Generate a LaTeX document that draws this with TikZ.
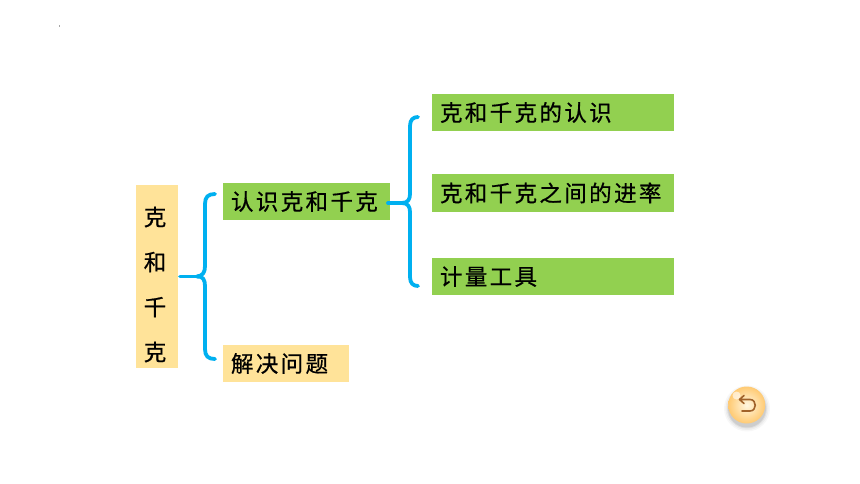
\documentclass[tikz,border=0pt]{standalone}
\usepackage{fontspec}
\usetikzlibrary{calc}
\newfontfamily\cjkfont[LetterSpace=10.5,FakeBold=0.6]{Noto Sans CJK SC}
\newcommand{\uptext}[1]{\raisebox{1pt}{#1}}
\newcommand{\rootchar}[1]{\mbox{#1\kern4pt}}
\definecolor{leafgreen}{HTML}{92D050}
\definecolor{paleyellow}{HTML}{FFE399}
\definecolor{linkblue}{HTML}{00B0F0}
\definecolor{arrowbrown}{HTML}{A0622A}
\tikzset{
  x=1pt,y=-1pt,
  label box/.style={anchor=north west,inner xsep=8pt,inner ysep=0pt,outer sep=0pt,
    minimum height=37pt,align=left,font=\cjkfont\fontsize{22.5}{24}\selectfont,text=black},
  green box/.style={label box,fill=leafgreen},
  yellow box/.style={label box,fill=paleyellow},
  link/.style={draw=linkblue,line width=3.8pt,line cap=round,line join=round},
}
\begin{document}
\begin{tikzpicture}
\useasboundingbox[fill=white] (0,0) rectangle (860,484);
\fill[gray!70] (59,25) rectangle (60,26.6);

\node[yellow box,anchor=north west,inner xsep=0pt,minimum width=42pt,minimum height=183pt,align=center,
  font=\cjkfont\fontsize{22.5}{45}\selectfont] (root) at (136,185)
  {\rule{0pt}{35pt}\rootchar{克}\\\rootchar{和}\\\rootchar{千}\\\rootchar{克}};
\node[green box,text width=151pt] (know) at (223,183) {\uptext{认识克和千克}};
\node[yellow box,text width=110pt] (solve) at (223,345) {\uptext{解决问题}};
\node[green box,text width=226pt] (leafa) at (432,94) {\uptext{克和千克的认识}};
\node[green box,text width=226pt,minimum height=38pt] (leafb) at (432,174) {\uptext{克和千克之间的进率}};
\node[green box,text width=226pt] (leafc) at (432,258) {\uptext{计量工具}};

% first brace
\coordinate (b1top) at ($(know.north west)+(-8,11)$);
\coordinate (b1bot) at ($(solve.north west)+(-8,14)$);
\coordinate (b1mid) at ($(root.east)+(19,0)$);
\coordinate (b1start) at ($(root.east)+(2,0)$);
\draw[link] (b1start) -- (b1mid);
\draw[link] (b1top) .. controls (208,194) and (205,197) .. (205,204) -- (205,266)
   .. controls (205,272) and (203,276) .. (b1mid);
\draw[link] (b1bot) .. controls (208,359) and (205,356) .. (205,349) -- (205,286)
   .. controls (205,280) and (203,276) .. (b1mid);

% second brace
\coordinate (b2top) at ($(leafa.north west)+(-14,23)$);
\coordinate (b2bot) at ($(leafc.north west)+(-14,28)$);
\coordinate (b2mid) at ($(know.east)+(12,1.5)$);
\coordinate (b2start) at ($(know.east)+(-2,1.5)$);
\draw[link] (b2start) -- (b2mid);
\draw[link] (b2top) .. controls (413,117) and (410,120) .. (410,126) -- (410,194)
   .. controls (410,199) and (408,203) .. (b2mid);
\draw[link] (b2bot) .. controls (413,286) and (410,283) .. (410,277) -- (410,212)
   .. controls (410,207) and (408,203) .. (b2mid);

% return button
\foreach \r/\o in {23/0.03,21.5/0.04,20/0.06,19/0.08}
  \fill[black,opacity=\o] (747,408.5) circle (\r);
\shade[inner color=white!70!paleyellow,middle color=paleyellow,outer color=paleyellow!75!orange]
  (746.7,405) circle (18.5);
\fill[white,opacity=0.6] (736.5,395.5) circle (4);
\draw[arrowbrown,line width=1.6pt,line cap=round,line join=round]
  (744,395.5) -- (739.5,399.5) -- (744,403.5)
  (739.5,399.5) -- (750,399.5) .. controls (757,399.5) and (757,411) .. (750,411) -- (742,411);
\end{tikzpicture}
\end{document}
